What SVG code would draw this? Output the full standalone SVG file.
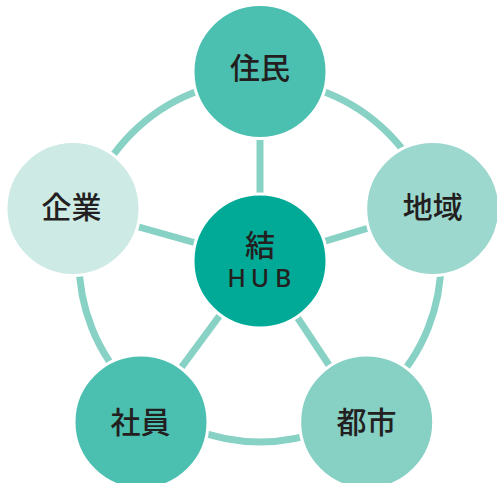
<svg xmlns="http://www.w3.org/2000/svg" width="497" height="483" viewBox="0 0 497 483">
<style>
.link{stroke:#88d1c5;stroke-width:7;fill:none}
.node{stroke:#fff;stroke-width:3}
.lbl{font-family:"Noto Sans CJK JP","Noto Sans",sans-serif;font-size:30px;font-weight:500;fill:#231f20;text-anchor:middle}
.hub{font-family:"Noto Sans","Liberation Sans",sans-serif;font-size:25px;font-weight:500;fill:#231f20;text-anchor:middle}
</style>
<rect width="497" height="483" fill="#fff"/>
<g id="connectors">
<circle class="link" cx="260" cy="261" r="181"/>
<line class="link" x1="260" y1="261" x2="260" y2="71.5"/>
<line class="link" x1="260" y1="261" x2="432.7" y2="208.5"/>
<line class="link" x1="260" y1="261" x2="73" y2="208.5"/>
<line class="link" x1="260" y1="261" x2="141" y2="422"/>
<line class="link" x1="260" y1="261" x2="366.7" y2="422"/>
</g>
<g id="jumin">
<circle class="node" cx="260" cy="71.5" r="67" fill="#4bbfb0"/>
<text class="lbl" x="260" y="79">住民</text>
</g>
<g id="chiiki">
<circle class="node" cx="432.7" cy="208.5" r="67" fill="#9dd8cf"/>
<text class="lbl" x="432.7" y="217.5">地域</text>
</g>
<g id="kigyo">
<circle class="node" cx="73" cy="208.5" r="67" fill="#cdeae5"/>
<text class="lbl" x="71.5" y="217.5">企業</text>
</g>
<g id="shain">
<circle class="node" cx="141" cy="422" r="67" fill="#4bbfb0"/>
<text class="lbl" x="140.5" y="432.5">社員</text>
</g>
<g id="toshi">
<circle class="node" cx="366.7" cy="422" r="67" fill="#86d0c4"/>
<text class="lbl" x="366.5" y="432.5">都市</text>
</g>
<g id="hub">
<circle class="node" cx="260" cy="261" r="67" fill="#00aa96"/>
<text class="lbl" x="260" y="255.5">結</text>
<text class="hub" x="236.7 260 283.3" y="287">HUB</text>
</g>
</svg>
